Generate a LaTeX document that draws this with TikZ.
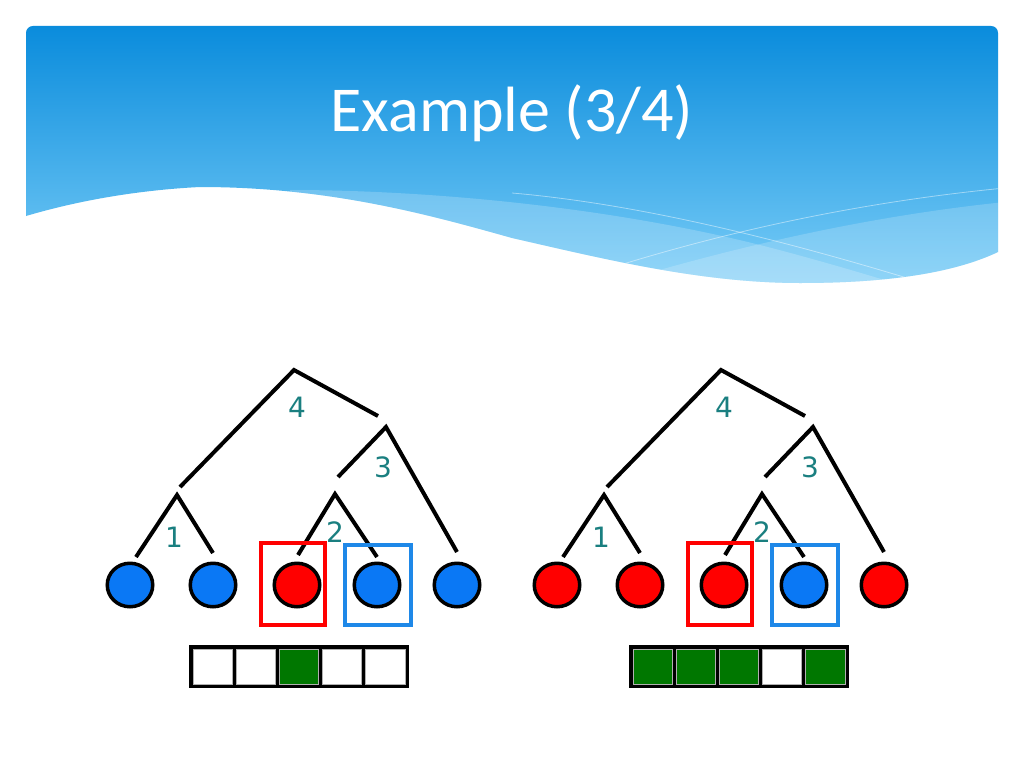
\documentclass[tikz,border=0pt]{standalone}
\usepackage{fontspec}
\newfontfamily\titlefont{Carlito}
\newfontfamily\labfont{DejaVu Sans}
\usetikzlibrary{shapes.geometric}
\definecolor{hdtop}{HTML}{0A8CDC}
\definecolor{hdbot}{HTML}{78CCF7}
\definecolor{ballblue}{HTML}{0A78F5}
\definecolor{ballred}{HTML}{FF0000}
\definecolor{boxred}{HTML}{FF0000}
\definecolor{boxblue}{HTML}{1E88E8}
\definecolor{labteal}{HTML}{1A7F80}
\definecolor{cellgreen}{HTML}{007700}
\definecolor{cellrim}{HTML}{B0B0B0}
\tikzset{
  branch/.style={line width=4pt, black},
  lab/.style={text=labteal, font=\labfont\fontsize{28}{30}\selectfont, inner sep=0pt},
  ball/.style={ellipse, draw=black, line width=3.5pt, minimum width=45.5pt, minimum height=43.5pt, inner sep=0pt},
  redbox/.style={draw=boxred, line width=4pt, minimum width=64pt, minimum height=82pt, inner sep=0pt},
  bluebox/.style={draw=boxblue, line width=4pt, minimum width=66pt, minimum height=80pt, inner sep=0pt},
  cell/.style={draw=cellrim, line width=0.8pt},
}
\newcommand\mytree[7]{%
\begin{scope}[xshift=#2]
\coordinate (#1a4) at (294,370); \coordinate (#1a4l) at (180,487); \coordinate (#1a4r) at (378,416);
\coordinate (#1a3) at (386,427); \coordinate (#1a3l) at (338,477); \coordinate (#1a3r) at (457,552);
\coordinate (#1a1) at (177,495); \coordinate (#1a1l) at (136,557); \coordinate (#1a1r) at (213,553);
\coordinate (#1a2) at (335,494); \coordinate (#1a2l) at (298,555); \coordinate (#1a2r) at (377,557);
\draw[branch] (#1a4l) -- (#1a4) -- (#1a4r);
\draw[branch] (#1a3l) -- (#1a3) -- (#1a3r);
\draw[branch] (#1a1l) -- (#1a1) -- (#1a1r);
\draw[branch] (#1a2l) -- (#1a2) -- (#1a2r);
\node[lab] (#1l4) at (297,407) {4};
\node[lab] (#1l3) at (383,467) {3};
\node[lab] (#1l1) at (174,537) {1};
\node[lab] (#1l2) at (335,532) {2};
\node[ball, fill=#3] (#1c1) at (130,585) {};
\node[ball, fill=#4] (#1c2) at (213,585) {};
\node[ball, fill=#5] (#1c3) at (297,585) {};
\node[ball, fill=#6] (#1c4) at (377,585) {};
\node[ball, fill=#7] (#1c5) at (457,585) {};
\node[redbox] (#1rb) at (293,584) {};
\node[bluebox] (#1bb) at (378,585) {};
\end{scope}}
\newcommand\mybar[7]{%
\fill[black] (#2,645) rectangle ++(220,43);
\foreach \i/\c in {0/#3,1/#4,2/#5,3/#6,4/#7}{
  \path[cell, fill=\c] ({#2+4+43.2*\i},649) rectangle ++(39.2,35);
}}
\begin{document}
\begin{tikzpicture}[x=1pt,y=-1pt]
\useasboundingbox (0,0) rectangle (1024,768);
\fill[white] (0,0) rectangle (1024,768);
% header
\shade[top color=hdtop, bottom color=hdbot]
  (26,216) -- (26,33) .. controls (26,29) and (29,26) .. (33,26) -- (991,26)
  .. controls (995,26) and (998,29) .. (998,33) -- (998,252)
  .. controls (960,270) and (900,283) .. (800,283)
  .. controls (700,283) and (600,258) .. (512,238)
  .. controls (430,215) and (330,187) .. (200,187)
  .. controls (140,190) and (80,200) .. (26,216) -- cycle;
\begin{scope}
\clip
  (26,216) -- (26,33) .. controls (26,29) and (29,26) .. (33,26) -- (991,26)
  .. controls (995,26) and (998,29) .. (998,33) -- (998,252)
  .. controls (960,270) and (900,283) .. (800,283)
  .. controls (700,283) and (600,258) .. (512,238)
  .. controls (430,215) and (330,187) .. (200,187)
  .. controls (140,190) and (80,200) .. (26,216) -- cycle;
\fill[white, opacity=0.2] (290,190) .. controls (420,190) and (600,205) .. (760,245)
  .. controls (850,268) and (950,300) .. (1010,320) -- (1010,330) -- (290,330) -- cycle;
\fill[white, opacity=0.18] (560,300) .. controls (700,255) and (850,218) .. (1005,202)
  -- (1005,330) -- (560,330) -- cycle;
\draw[white, opacity=0.45, line width=0.8pt] (512,193) .. controls (650,205) and (800,245) .. (930,285);
\draw[white, opacity=0.45, line width=0.8pt] (620,265) .. controls (750,225) and (880,200) .. (1005,188);
\end{scope}
\node[font=\titlefont\fontsize{64}{70}\selectfont, text=white, anchor=base] (title) at (512,131) {Example (3/4)};
% trees
\mytree{L}{0pt}{ballblue}{ballblue}{ballred}{ballblue}{ballblue}
\mytree{R}{427pt}{ballred}{ballred}{ballred}{ballblue}{ballred}
% bars
\mybar{LB}{189}{white}{white}{cellgreen}{white}{white}
\mybar{RB}{629}{cellgreen}{cellgreen}{cellgreen}{white}{cellgreen}
\end{tikzpicture}
\end{document}
